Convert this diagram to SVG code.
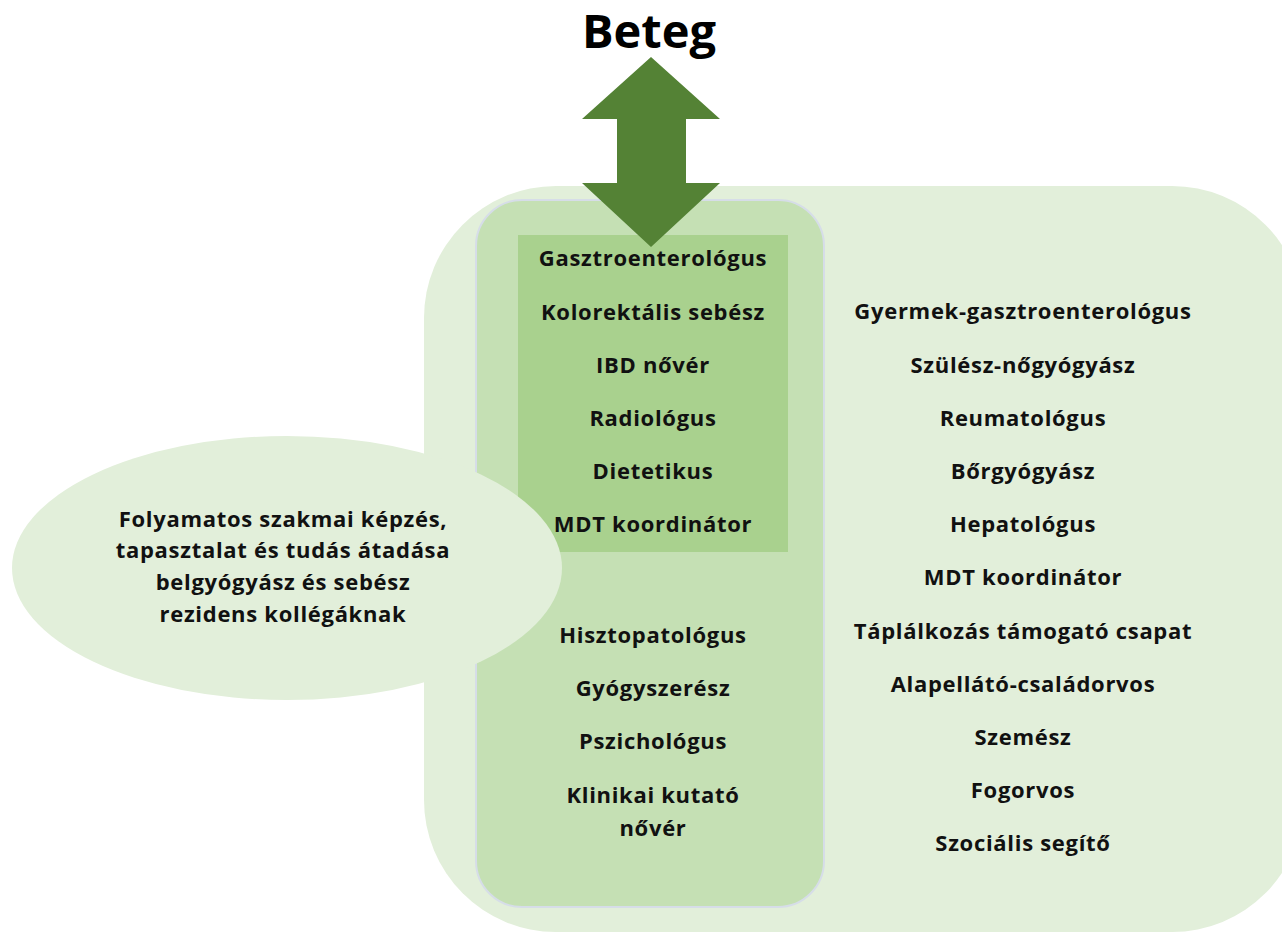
<svg xmlns="http://www.w3.org/2000/svg" width="1282" height="932" viewBox="0 0 1282 932">
  <style>
    .lbl { font-family: "Open Sans", "Liberation Sans", sans-serif; font-weight: 700; font-size: 22px; letter-spacing: 0.7px; fill: #111111; text-anchor: middle; }
    .title { font-family: "Open Sans", "Liberation Sans", sans-serif; font-weight: 700; font-size: 47px; fill: #000000; text-anchor: middle; }
  </style>
  <rect width="1282" height="932" fill="#ffffff"/>

  <!-- wider team: outer rounded panel -->
  <g id="wider-team">
    <rect x="424" y="186" width="880" height="746" rx="132" ry="132" fill="#e2efda"/>
  </g>

  <!-- core team: inner rounded panel -->
  <g id="core-team">
    <rect x="476" y="200" width="348" height="707" rx="46" ry="46" fill="#c5e0b4" stroke="#d6dde8" stroke-width="2"/>
  </g>

  <!-- core members block -->
  <g id="core-members">
    <rect x="518" y="235" width="270" height="317" fill="#a9d18e"/>
  </g>

  <!-- training ellipse -->
  <g id="training">
    <ellipse cx="287" cy="568" rx="275" ry="132" fill="#e2efda"/>
    <text class="lbl" x="283" y="527">Folyamatos szakmai képzés,</text>
    <text class="lbl" x="283" y="558">tapasztalat és tudás átadása</text>
    <text class="lbl" x="283" y="590">belgyógyász és sebész</text>
    <text class="lbl" x="283" y="622">rezidens kollégáknak</text>
  </g>

  <!-- connector: patient two-way arrow -->
  <g id="connectors">
    <polygon points="651,57 720,119 686,119 686,183 720,183 651,247 582,183 617,183 617,119 582,119" fill="#548235"/>
  </g>

  <g id="patient">
    <text class="title" x="649" y="48">Beteg</text>
  </g>

  <g id="core-labels">
    <text class="lbl" x="653" y="266">Gasztroenterológus</text>
    <text class="lbl" x="653" y="320">Kolorektális sebész</text>
    <text class="lbl" x="653" y="373">IBD nővér</text>
    <text class="lbl" x="653" y="426">Radiológus</text>
    <text class="lbl" x="653" y="479">Dietetikus</text>
    <text class="lbl" x="653" y="532">MDT koordinátor</text>
    <text class="lbl" x="653" y="643">Hisztopatológus</text>
    <text class="lbl" x="653" y="696">Gyógyszerész</text>
    <text class="lbl" x="653" y="749">Pszichológus</text>
    <text class="lbl" x="653" y="803">Klinikai kutató</text>
    <text class="lbl" x="653" y="836">nővér</text>
  </g>

  <g id="wider-labels">
    <text class="lbl" x="1023" y="319">Gyermek-gasztroenterológus</text>
    <text class="lbl" x="1023" y="373">Szülész-nőgyógyász</text>
    <text class="lbl" x="1023" y="426">Reumatológus</text>
    <text class="lbl" x="1023" y="479">Bőrgyógyász</text>
    <text class="lbl" x="1023" y="532">Hepatológus</text>
    <text class="lbl" x="1023" y="585">MDT koordinátor</text>
    <text class="lbl" x="1023" y="639">Táplálkozás támogató csapat</text>
    <text class="lbl" x="1023" y="692">Alapellátó-családorvos</text>
    <text class="lbl" x="1023" y="745">Szemész</text>
    <text class="lbl" x="1023" y="798">Fogorvos</text>
    <text class="lbl" x="1023" y="851">Szociális segítő</text>
  </g>
</svg>
